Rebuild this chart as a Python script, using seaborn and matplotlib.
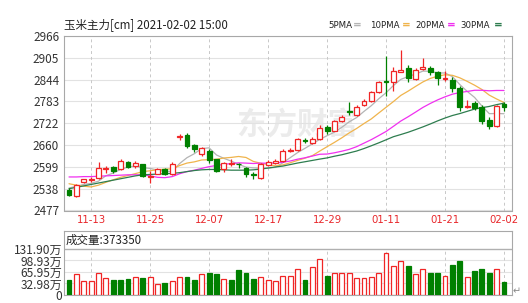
import numpy as np
import pandas as pd
import matplotlib
matplotlib.use("Agg")
import matplotlib.pyplot as plt
import seaborn as sns

# ---------------- data ----------------
title = "玉米主力[cm] 2021-02-02 15:00"
tick_pos = [3, 11, 19, 27, 35, 43, 51, 59]
tick_labels = ["11-13", "11-25", "12-07", "12-17", "12-29", "01-11", "01-21", "02-02"]

opens = [2534, 2517, 2556, 2563, 2568, 2594, 2599, 2592, 2612, 2601,
         2606, 2571, 2580, 2594, 2578, 2683, 2689, 2661, 2635, 2643,
         2620, 2592, 2608, 2608, 2596, 2578, 2568, 2605, 2610, 2615,
         2645, 2647, 2674, 2666, 2677, 2711, 2701, 2727, 2755, 2745,
         2773, 2785, 2808, 2840, 2838, 2866, 2876, 2845, 2874, 2876,
         2866, 2846, 2843, 2820, 2768, 2778, 2768, 2731, 2713, 2776]
closes = [2521, 2549, 2564, 2566, 2596, 2597, 2587, 2615, 2599, 2610,
          2575, 2575, 2593, 2580, 2608, 2687, 2657, 2649, 2652, 2618,
          2587, 2610, 2610, 2606, 2580, 2576, 2606, 2612, 2615, 2645,
          2647, 2677, 2672, 2677, 2708, 2699, 2727, 2740, 2753, 2768,
          2785, 2808, 2836, 2838, 2869, 2871, 2848, 2871, 2879, 2866,
          2848, 2848, 2820, 2768, 2770, 2764, 2727, 2713, 2770, 2767]
highs = [2539, 2552, 2566, 2570, 2612, 2602, 2603, 2620, 2615, 2615,
         2608, 2587, 2596, 2597, 2614, 2692, 2694, 2664, 2655, 2648,
         2622, 2614, 2620, 2611, 2600, 2585, 2610, 2618, 2622, 2648,
         2652, 2680, 2680, 2682, 2717, 2717, 2730, 2745, 2780, 2772,
         2790, 2812, 2840, 2911, 2878, 2926, 2885, 2876, 2904, 2883,
         2869, 2868, 2851, 2825, 2788, 2785, 2772, 2740, 2772, 2782]
lows = [2517, 2515, 2554, 2558, 2565, 2582, 2583, 2590, 2596, 2596,
        2572, 2554, 2578, 2577, 2576, 2675, 2652, 2642, 2630, 2610,
        2584, 2585, 2603, 2597, 2570, 2565, 2565, 2602, 2606, 2612,
        2640, 2645, 2665, 2664, 2674, 2690, 2699, 2725, 2745, 2742,
        2770, 2782, 2805, 2797, 2812, 2864, 2838, 2842, 2872, 2857,
        2830, 2840, 2810, 2755, 2763, 2758, 2720, 2705, 2710, 2755]

ma5 = [2540, 2545, 2550, 2553, 2559.2, 2574.4, 2582.0, 2592.2, 2598.8, 2601.6,
       2597.2, 2594.8, 2590.4, 2586.6, 2586.2, 2608.6, 2625.0, 2636.2, 2650.6, 2652.6,
       2632.6, 2623.2, 2615.4, 2606.2, 2598.6, 2596.4, 2595.6, 2596.0, 2597.8, 2610.8,
       2625.0, 2639.2, 2651.2, 2663.6, 2676.2, 2686.6, 2696.6, 2710.2, 2725.4, 2737.4,
       2754.6, 2770.8, 2790.0, 2807.0, 2827.2, 2844.4, 2852.4, 2859.4, 2867.6, 2867.0,
       2862.4, 2862.4, 2852.2, 2830.0, 2810.8, 2794.0, 2769.8, 2748.4, 2748.8, 2748.2]
ma10 = [2552, 2548, 2545, 2543, 2548, 2556, 2563, 2570, 2575, 2580.4,
        2585.8, 2588.4, 2591.3, 2592.7, 2593.9, 2602.9, 2609.9, 2613.3, 2618.6, 2619.4,
        2620.6, 2624.1, 2625.8, 2628.4, 2625.6, 2614.5, 2609.4, 2605.7, 2602.0, 2604.7,
        2610.7, 2617.4, 2623.6, 2630.7, 2643.5, 2655.8, 2667.9, 2680.7, 2694.5, 2706.8,
        2720.6, 2733.7, 2750.1, 2766.2, 2782.3, 2799.5, 2811.6, 2824.7, 2837.3, 2847.1,
        2853.4, 2857.4, 2855.8, 2848.8, 2838.9, 2828.2, 2816.1, 2800.3, 2789.4, 2779.5]
ma20 = [2571, 2571, 2572, 2572, 2573, 2574, 2575, 2576, 2577, 2577,
        2577, 2574, 2570, 2569, 2572, 2580, 2586, 2590, 2595, 2599.9,
        2603.2, 2606.3, 2608.6, 2610.6, 2609.8, 2608.7, 2609.7, 2609.5, 2610.3, 2612.1,
        2615.7, 2620.8, 2624.7, 2629.6, 2634.6, 2635.2, 2638.7, 2643.2, 2648.3, 2655.8,
        2665.7, 2675.6, 2686.9, 2698.5, 2712.9, 2727.7, 2739.8, 2752.7, 2765.9, 2777.0,
        2787.0, 2795.6, 2803.0, 2807.5, 2810.6, 2813.9, 2813.9, 2812.5, 2813.4, 2813.3]
ma30 = [2538, 2542, 2546, 2550, 2554, 2558, 2562, 2566, 2570, 2574,
        2577, 2578, 2579, 2580, 2581, 2583, 2586, 2589, 2591, 2592,
        2592, 2591, 2590, 2590, 2590, 2591, 2593, 2596, 2599, 2601.5,
        2605.7, 2610.0, 2613.6, 2617.3, 2621.0, 2624.4, 2629.1, 2633.2, 2638.4, 2643.6,
        2650.6, 2658.4, 2666.5, 2675.1, 2683.8, 2689.9, 2696.3, 2703.7, 2711.3, 2719.5,
        2728.2, 2736.2, 2743.2, 2748.6, 2754.9, 2761.2, 2765.2, 2768.6, 2773.7, 2777.8]

# volume in 万 (10k)
volumes = [43, 59, 40, 40, 62, 50, 43, 43, 46, 51,
           48, 51, 31, 34, 40, 51, 51, 43, 60, 64,
           60, 46, 43, 72, 62, 46, 51, 43, 40, 55,
           55, 75, 43, 80, 103, 54, 62, 62, 64, 48,
           48, 51, 62, 120, 83, 97, 83, 59, 75, 64,
           64, 54, 86, 97, 51, 69, 75, 64, 75, 37.335]
vol_up = [0, 1, 1, 1, 1, 1, 0, 0, 0, 1,
          0, 1, 1, 0, 1, 1, 0, 0, 1, 0,
          0, 1, 0, 0, 0, 0, 1, 1, 1, 1,
          1, 1, 0, 1, 1, 0, 1, 1, 1, 1,
          1, 1, 1, 1, 1, 1, 0, 1, 1, 0,
          0, 1, 0, 0, 1, 0, 0, 0, 1, 0]
last_volume = 373350

price_ticks = [2477, 2538, 2599, 2660, 2722, 2783, 2844, 2905, 2966]
vol_ticks = [0, 32.98, 65.95, 98.93, 131.90]
vol_tick_labels = ["0", "32.98万", "65.95万", "98.93万", "131.90万"]
ma_names = ["5PMA", "10PMA", "20PMA", "30PMA"]

# ---------------- style ----------------
sns.set_theme(style="white")
plt.rcParams['font.family'] = ['Noto Sans CJK SC', 'DejaVu Sans']
plt.rcParams['axes.unicode_minus'] = False

UP = '#f02525'
DOWN = '#008000'
ma_colors = {"5PMA": '#b4b4b4', "10PMA": '#f0b44c', "20PMA": '#f030f0', "30PMA": '#2e7d4f'}
FRAME = '#a8a8a8'
GRID = '#e2e2e2'

W, H = 528, 303
fig = plt.figure(figsize=(W / 100, H / 100), dpi=100)
fig.patch.set_facecolor('white')

def fx(px):
    return px / W

def fy(py):
    return 1 - py / H

ax = fig.add_axes([fx(64), fy(210.5), fx(512) - fx(64), fy(36) - fy(210.5)])
axv = fig.add_axes([fx(64), fy(295), fx(512) - fx(64), fy(231) - fy(295)])

n = len(closes)
idx = np.arange(n)
o = np.array(opens, float)
c = np.array(closes, float)
h = np.array(highs, float)
l = np.array(lows, float)
up = c >= o

# watermark
ax.text(0.52, 0.49, "东方财富", ha='center', va='center', fontsize=22, fontweight='bold',
        color='#ebebeb', zorder=0, transform=ax.transAxes)

# grid
for t in price_ticks:
    ax.axhline(t, color=GRID, lw=0.8, zorder=1)
for p in tick_pos:
    ax.axvline(p, color='#c8c8c8', lw=0.7, ls=(0, (3, 3)), zorder=1)

# MA lines via seaborn
ma_df = pd.DataFrame({
    'i': np.tile(idx, 4),
    'v': np.concatenate([ma5, ma10, ma20, ma30]),
    'ma': np.repeat(ma_names, n),
})
sns.lineplot(data=ma_df, x='i', y='v', hue='ma', palette=ma_colors, legend=False,
             estimator=None, linewidth=0.9, ax=ax, zorder=2)

# candles
cols = np.where(up, UP, DOWN)
ax.vlines(idx, l, h, colors=cols, lw=0.9, zorder=3)
body_h = np.maximum(np.abs(c - o), 0.8)
body_b = np.minimum(o, c)
ax.bar(idx, body_h, bottom=body_b, width=0.66,
       facecolor=np.where(up, 'white', DOWN), edgecolor=cols, linewidth=0.9, zorder=4)

ax.set_xlim(-0.68, 60.08)
ax.set_ylim(2477, 2966)
ax.set_yticks(price_ticks)
ax.set_yticklabels([str(t) for t in price_ticks], fontsize=8.5, color='#333333')
ax.set_xticks(tick_pos)
ax.set_xticklabels(tick_labels, fontsize=7.3, color='#e8262a', family=['DejaVu Sans'])
ax.tick_params(axis='y', length=2.5, width=0.6, color=FRAME, pad=1)
ax.tick_params(axis='x', length=0, pad=3)
ax.set_xlabel('')
ax.set_ylabel('')
for s in ax.spines.values():
    s.set_color(FRAME)
    s.set_linewidth(0.8)

# volume panel
vcols = np.where(np.array(vol_up) == 1, UP, DOWN)
for t in vol_ticks[1:4]:
    axv.axhline(t, color=GRID, lw=0.8, zorder=1)
axv.axhline(vol_ticks[-1], color='#b0b0b0', lw=1.0, zorder=1)
for p in tick_pos:
    axv.vlines(p, 0, vol_ticks[-1], color='#c8c8c8', lw=0.7, linestyles=(0, (3, 3)), zorder=1)
axv.bar(idx, volumes, width=0.66,
        facecolor=np.where(np.array(vol_up) == 1, 'white', DOWN),
        edgecolor=vcols, linewidth=0.9, zorder=3)
axv.set_xlim(-0.68, 60.08)
axv.set_ylim(0, 183.5)
axv.set_yticks(vol_ticks)
axv.set_yticklabels(vol_tick_labels, fontsize=8.6, color='#333333')
axv.tick_params(axis='y', length=0, pad=1)
axv.set_xticks([])
for s in axv.spines.values():
    s.set_color(FRAME)
    s.set_linewidth(0.8)
axv.text(0.004, 0.86, f"成交量:{last_volume}", transform=axv.transAxes, ha='left', va='center',
         fontsize=8.3, color='#222222')

# title and legend
fig.text(fx(64), fy(25), title, ha='left', va='center', fontsize=8.3, color='#222222')
leg_x = [328, 370, 415, 460]
for name, x0 in zip(ma_names, leg_x):
    fig.text(fx(x0), fy(25), name, ha='left', va='center', fontsize=6.2,
             color='#222222', family=['DejaVu Sans'])
for name, x0 in zip(ma_names, [357, 406, 451, 498]):
    fig.text(fx(x0), fy(25), "=", ha='center', va='center', fontsize=7.5, fontweight='bold',
             color=ma_colors[name], family=['DejaVu Sans'])

fig.text(fx(517), fy(291), "↵", ha='center', va='center', fontsize=7, color='#888888',
         family=['DejaVu Sans'])

fig.savefig("out.png", dpi=100, facecolor='white')
